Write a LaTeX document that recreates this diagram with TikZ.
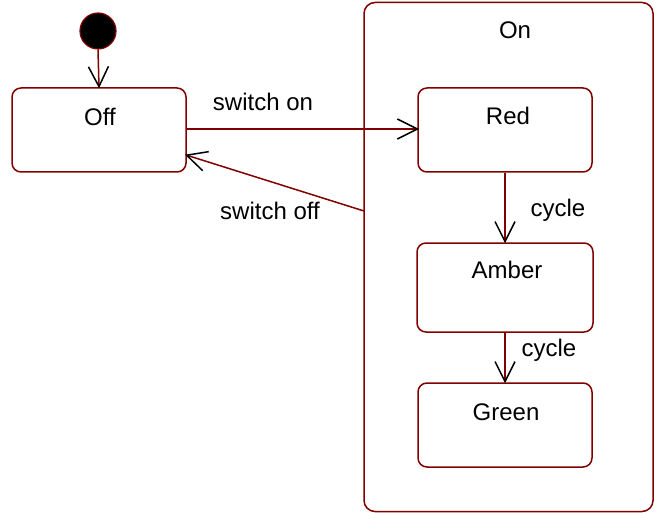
\documentclass[tikz,border=0pt]{standalone}
\usepackage{fontspec}
\setmainfont{Liberation Sans}
\usetikzlibrary{arrows.meta}
\definecolor{uml}{HTML}{800000}
\begin{document}
\begin{tikzpicture}[x=1pt,y=-1pt,
  statebox/.style={draw=uml, line width=1.5pt, rounded corners=9pt, inner sep=0pt},
  txt/.style={inner sep=0pt, anchor=base, font=\fontsize{24}{28}\selectfont},
  trans/.style={draw=uml, line width=1.5pt, -{Straight Barb[length=20pt,width=20pt,line width=1.5pt,color=black]}, shorten >=-1pt}
]
\useasboundingbox (0,0) rectangle (655,513);
% initial
\node[circle, draw=uml, fill=black, line width=1.2pt, minimum size=36pt, inner sep=0pt] (init) at (98,31) {};
% composite state On
\node[statebox, rounded corners=11pt, minimum width=289pt, minimum height=509pt] (on) at (508.5,257) {};
\node[txt] (ontxt) at (515,39) {On};
% states
\node[statebox, minimum width=174pt, minimum height=84pt] (off) at (99,130) {};
\node[txt] (offtxt) at (100,126) {Off};
\node[statebox, minimum width=174pt, minimum height=84pt] (red) at (505,130) {};
\node[txt] (redtxt) at (508,125) {Red};
\node[statebox, minimum width=176pt, minimum height=89pt] (amber) at (505,287.5) {};
\node[txt] (ambertxt) at (507,278) {Amber};
\node[statebox, minimum width=174pt, minimum height=84pt] (green) at (505,425) {};
\node[txt] (greentxt) at (506,420) {Green};
% coordinates for transition ends
\coordinate (onL) at (364,211);
\coordinate (offR) at (186,155);
\coordinate (offRon) at (186,129);
\coordinate (redL) at (418,129);
% transitions
\draw[trans] (init.south) -- (off.north);
\draw[trans] (offRon) -- (redL);
\draw[trans] (onL) -- (offR);
\draw[trans, line width=1.3pt] (red.south -| 505,0) -- (amber.north -| 505,0);
\draw[trans] (amber.south -| 505,0) -- (green.north -| 505,0);
% labels
\node[txt] (l1) at (263,111) {switch on};
\node[txt] (l2) at (270,219) {switch off};
\node[txt] (l3) at (558,216) {cycle};
\node[txt] (l4) at (549,356) {cycle};
\end{tikzpicture}
\end{document}
